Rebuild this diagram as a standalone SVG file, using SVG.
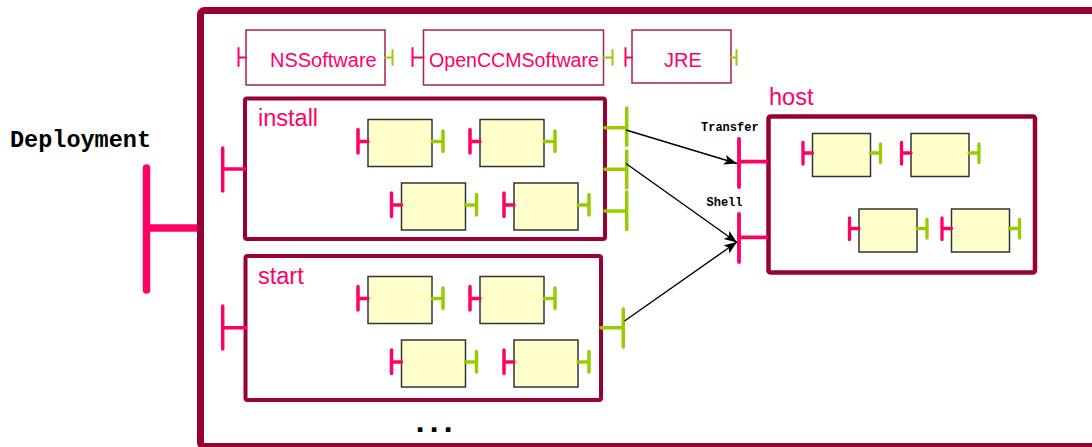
<svg xmlns="http://www.w3.org/2000/svg" width="1092" height="447" viewBox="0 0 1092 447">
  <defs>
    <style>
      .frame{fill:none;stroke:#990033;stroke-linejoin:round}
      .swbox{fill:#fff;stroke:#a3244f;stroke-width:1.5}
      .lbl{font-family:"Liberation Sans",Arial,Helvetica,sans-serif;fill:#ff0066}
      .mono{font-family:"Liberation Mono","Courier New",monospace;font-weight:bold;fill:#000}
      .comp{fill:#ffffcc;stroke:#333;stroke-width:1.5}
      .pin{fill:none;stroke:#ff0066;stroke-linecap:round}
      .pout{fill:none;stroke:#99cc00;stroke-linecap:round}
      .link{fill:none;stroke:#000;stroke-width:1.4}
    </style>
    <marker id="arrow" markerUnits="userSpaceOnUse" markerWidth="14" markerHeight="12" refX="13" refY="5" orient="auto">
      <path d="M0,0 L13,5 L0,10 L3,5 z" fill="#000"/>
    </marker>
  </defs>

  <rect width="1092" height="447" fill="#fff"/>

  <!-- Deployment composite -->
  <g id="deployment">
    <text class="mono" x="10" y="147" font-size="23.5">Deployment</text>
    <path class="pin" d="M146.5 168V290 M146.5 228H198" stroke-width="7.5"/>
    <rect class="frame" x="200.5" y="10.5" width="1000" height="436" rx="4" stroke-width="7"/>
  </g>

  <!-- required software -->
  <g id="nssoftware">
    <rect class="swbox" x="246" y="30" width="139" height="55"/>
    <text class="lbl" x="270" y="67" font-size="20">NSSoftware</text>
    <path class="pin" d="M238.5 48V66 M238.5 57.5H246" stroke-width="2"/>
    <path class="pout" d="M385 57.5H392.5 M392.5 50V65" stroke-width="2"/>
  </g>
  <g id="openccmsoftware">
    <rect class="swbox" x="423.5" y="30" width="180" height="55"/>
    <text class="lbl" x="429" y="67" font-size="19.6">OpenCCMSoftware</text>
    <path class="pin" d="M412.5 48V66 M412.5 57.5H423.5" stroke-width="2"/>
    <path class="pout" d="M603.5 57.5H612.5 M612.5 50V65" stroke-width="2"/>
  </g>
  <g id="jre">
    <rect class="swbox" x="632" y="30" width="99" height="53"/>
    <text class="lbl" x="664" y="67" font-size="20">JRE</text>
    <path class="pin" d="M625.5 48V66 M625.5 57.5H632" stroke-width="2"/>
    <path class="pout" d="M731 57.5H736.5 M736.5 50V65" stroke-width="2"/>
  </g>

  <!-- install composite -->
  <g id="install">
    <rect class="frame" x="245" y="98.5" width="360" height="140.5" rx="2" stroke-width="4"/>
    <text class="lbl" x="258" y="126" font-size="23.5">install</text>
    <path class="pin" d="M222.7 148V191 M222.7 169H245" stroke-width="3.5"/>
    <path class="pout" d="M605 127.7H626.7 M626.7 108V145.5" stroke-width="3.5"/>
    <path class="pout" d="M605 169.3H626.7 M626.7 151V188" stroke-width="3.5"/>
    <path class="pout" d="M605 211H626.7 M626.7 192V229.5" stroke-width="3.5"/>
    <g id="install-c1">
      <rect class="comp" x="368" y="119.5" width="64" height="47"/>
      <path class="pin" d="M358 129.5V153 M358 141.5H368" stroke-width="3.5"/>
      <path class="pout" d="M432 141.5H443 M443 131V151.5" stroke-width="3.5"/>
    </g>
    <g id="install-c2">
      <rect class="comp" x="480" y="119.5" width="64" height="47"/>
      <path class="pin" d="M470 129.5V153 M470 141.5H480" stroke-width="3.5"/>
      <path class="pout" d="M544 141.5H555 M555 131V151.5" stroke-width="3.5"/>
    </g>
    <g id="install-c3">
      <rect class="comp" x="401.5" y="183" width="64" height="47"/>
      <path class="pin" d="M391.5 193V216.5 M391.5 205H401.5" stroke-width="3.5"/>
      <path class="pout" d="M465.5 205H476.5 M476.5 194.5V215" stroke-width="3.5"/>
    </g>
    <g id="install-c4">
      <rect class="comp" x="514" y="183" width="64" height="47"/>
      <path class="pin" d="M504 193V216.5 M504 205H514" stroke-width="3.5"/>
      <path class="pout" d="M578 205H589 M589 194.5V215" stroke-width="3.5"/>
    </g>
  </g>

  <!-- start composite -->
  <g id="start">
    <rect class="frame" x="245.5" y="256" width="355.5" height="144" rx="2" stroke-width="4"/>
    <text class="lbl" x="258" y="284" font-size="23.5">start</text>
    <path class="pin" d="M222.7 306V349 M222.7 327.7H245.5" stroke-width="3.5"/>
    <path class="pout" d="M601 327.7H623.3 M623.3 309V347" stroke-width="3.5"/>
    <g id="start-c1">
      <rect class="comp" x="368" y="276.5" width="64" height="47"/>
      <path class="pin" d="M358 286.5V310 M358 298.5H368" stroke-width="3.5"/>
      <path class="pout" d="M432 298.5H443 M443 288V308.5" stroke-width="3.5"/>
    </g>
    <g id="start-c2">
      <rect class="comp" x="480" y="276.5" width="64" height="47"/>
      <path class="pin" d="M470 286.5V310 M470 298.5H480" stroke-width="3.5"/>
      <path class="pout" d="M544 298.5H555 M555 288V308.5" stroke-width="3.5"/>
    </g>
    <g id="start-c3">
      <rect class="comp" x="401.5" y="340" width="64" height="47"/>
      <path class="pin" d="M391.5 350V373.5 M391.5 362H401.5" stroke-width="3.5"/>
      <path class="pout" d="M465.5 362H476.5 M476.5 351.5V372" stroke-width="3.5"/>
    </g>
    <g id="start-c4">
      <rect class="comp" x="514" y="340" width="64" height="47"/>
      <path class="pin" d="M504 350V373.5 M504 362H514" stroke-width="3.5"/>
      <path class="pout" d="M578 362H589 M589 351.5V372" stroke-width="3.5"/>
    </g>
  </g>

  <!-- more composites follow -->
  <text class="mono" x="410.4" y="431.5" font-size="32" letter-spacing="-5.2">...</text>

  <!-- host composite -->
  <g id="host">
    <rect class="frame" x="768.5" y="116.5" width="266.5" height="156" rx="2" stroke-width="4.5"/>
    <text class="lbl" x="769" y="104.5" font-size="23.5">host</text>
    <text class="mono" x="701" y="131" font-size="12">Transfer</text>
    <text class="mono" x="706.5" y="205.5" font-size="12">Shell</text>
    <path class="pin" d="M739 139V187 M739 161.7H766.5" stroke-width="3.8"/>
    <path class="pin" d="M739 214V262 M739 237.3H766.5" stroke-width="3.8"/>
    <g id="host-c1">
      <rect class="comp" x="812.5" y="133.5" width="58" height="43"/>
      <path class="pin" d="M803 142.5V164 M803 153H812.5" stroke-width="3.3"/>
      <path class="pout" d="M870.5 153H880.5 M880.5 144V162.5" stroke-width="3.3"/>
    </g>
    <g id="host-c2">
      <rect class="comp" x="911" y="133.5" width="58" height="43"/>
      <path class="pin" d="M901.5 142.5V164 M901.5 153H911" stroke-width="3.3"/>
      <path class="pout" d="M969 153H979 M979 144V162.5" stroke-width="3.3"/>
    </g>
    <g id="host-c3">
      <rect class="comp" x="859" y="209" width="58" height="43"/>
      <path class="pin" d="M849.5 218V239.5 M849.5 228.5H859" stroke-width="3.3"/>
      <path class="pout" d="M917 228.5H927 M927 219.5V238" stroke-width="3.3"/>
    </g>
    <g id="host-c4">
      <rect class="comp" x="951.5" y="209" width="58" height="43"/>
      <path class="pin" d="M942 218V239.5 M942 228.5H951.5" stroke-width="3.3"/>
      <path class="pout" d="M1009.5 228.5H1019.5 M1019.5 219.5V238" stroke-width="3.3"/>
    </g>
  </g>

  <!-- bindings -->
  <g id="connectors">
    <path class="link" d="M626 130L737 163.5" marker-end="url(#arrow)"/>
    <path class="link" d="M626 163.5L737 242.5" marker-end="url(#arrow)"/>
    <path class="link" d="M624.5 321L737 242" marker-end="url(#arrow)"/>
  </g>
</svg>
